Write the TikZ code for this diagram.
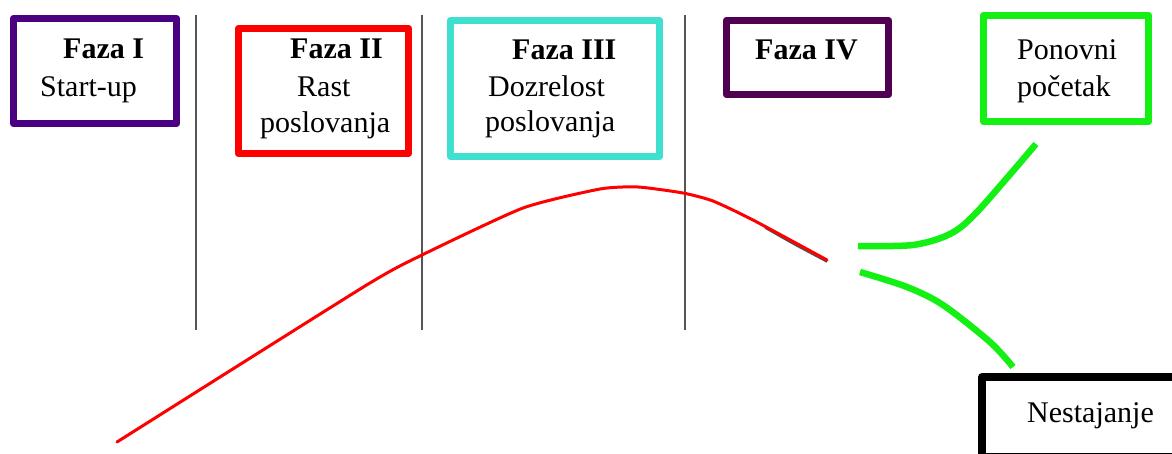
\documentclass[tikz,border=0pt]{standalone}
\usepackage{fontspec}
\setmainfont{Liberation Serif}
\definecolor{indigoC}{RGB}{75,0,130}
\definecolor{plumC}{RGB}{80,0,80}
\definecolor{turqC}{RGB}{64,224,208}
\definecolor{limeC}{RGB}{20,240,20}
\definecolor{redC}{RGB}{255,0,0}
\definecolor{sepC}{RGB}{85,85,85}
\tikzset{
  phasebox/.style={draw, line width=7.5pt, line join=round, rectangle, inner sep=0pt},
  lbl/.style={anchor=base west, inner sep=0pt, font=\fontsize{30}{37}\selectfont},
  blbl/.style={lbl, font=\fontsize{30}{37}\selectfont\bfseries},
  sepline/.style={draw=sepC, line width=2pt},
  lifecurve/.style={draw=redC, line width=3pt, line join=round, line cap=round},
  branch/.style={draw=limeC, line width=6.5pt, line join=round}
}
\begin{document}
\begin{tikzpicture}[x=1pt,y=-1pt]
\useasboundingbox (0,0) rectangle (1172,454);
\clip (0,0) rectangle (1172,454);
\fill[white] (0,0) rectangle (1172,454);
% boxes
\node[phasebox, draw=indigoC, minimum width=163pt, minimum height=105pt] (b1) at (95,71) {};
\node[phasebox, draw=redC, minimum width=170pt, minimum height=125pt] (b2) at (323.5,91) {};
\node[phasebox, draw=turqC, minimum width=209pt, minimum height=136pt] (b3) at (555,88.5) {};
\node[phasebox, draw=plumC, minimum width=162pt, minimum height=74pt] (b4) at (807.5,57.5) {};
\node[phasebox, draw=limeC, minimum width=165pt, minimum height=106pt] (b5) at (1066,68.5) {};
\node[phasebox, draw=black, minimum width=440pt, minimum height=80pt] (b6) at (1202,417) {};
% texts
\node[blbl] (t1a) at (63,59) {Faza I};
\node[lbl] (t1b) at (40,97) {Start-up};
\node[blbl] (t2a) at (290,59) {Faza II};
\node[lbl] (t2b) at (297,97) {Rast};
\node[lbl] (t2c) at (260,133) {poslovanja};
\node[blbl] (t3a) at (512,60) {Faza III};
\node[lbl] (t3b) at (488,97) {Dozrelost};
\node[lbl] (t3c) at (485,132) {poslovanja};
\node[blbl] (t4a) at (755,60) {Faza IV};
\node[lbl] (t5a) at (1017,60) {Ponovni};
\node[lbl] (t5b) at (1017,97) {početak};
\node[lbl] (t6a) at (1027,422) {Nestajanje};
% separators
\coordinate (s1t) at (196,15); \coordinate (s1b) at (196,330);
\coordinate (s2t) at (422,15); \coordinate (s2b) at (422,330);
\coordinate (s3t) at (685,15); \coordinate (s3b) at (685,330);
\draw[sepline] (s1t) -- (s1b);
\draw[sepline] (s2t) -- (s2b);
\draw[sepline] (s3t) -- (s3b);
% life curve
\draw[black!70, line width=1.5pt] plot[smooth, tension=0.4] coordinates {(765,228) (795,245) (827,262)};
\draw[lifecurve] plot[smooth, tension=0.35] coordinates {(117,442) (365,286) (422,255) (523,208) (600,189) (638,187) (683,193) (713,201) (753,220) (827,260)};
% branches
\coordinate (g1s) at (858,246);
\coordinate (g1e) at (1036,144);
\coordinate (g2s) at (860,272);
\coordinate (g2e) at (1013,367);
\draw[branch] plot[smooth, tension=0.5] coordinates {(g1s) (913,245) (950,234) (977,212) (g1e)};
\draw[branch] plot[smooth, tension=0.5] coordinates {(g2s) (907,287) (943,305) (990,342) (g2e)};
\end{tikzpicture}
\end{document}
